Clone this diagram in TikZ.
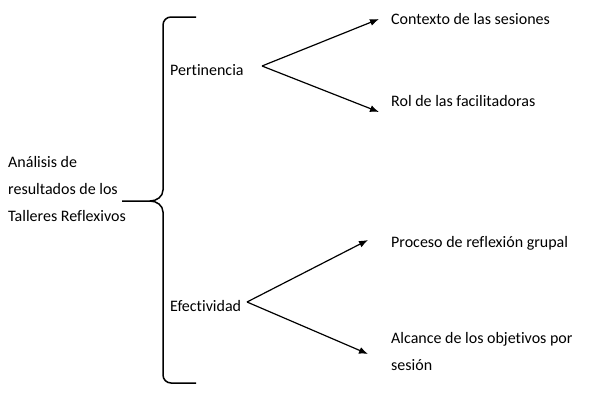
\documentclass[tikz,border=0pt]{standalone}
\usepackage{fontspec}
\setmainfont{Carlito}[Ligatures=NoCommon]
\usetikzlibrary{arrows.meta}

\begin{document}
\begin{tikzpicture}[x=1pt,y=-1pt,
	texto/.style={anchor=west,inner sep=0pt,font=\fontsize{16}{27}\selectfont,align=left},
	flecha/.style={-{Latex[length=9pt,width=7pt]},line width=1.2pt}]
	\useasboundingbox (0,0) rectangle (591,402);

	% Main text and the brace
	\node[texto] (main) at (8,189) {Análisis de\\resultados de los\\Talleres Reflexivos};
	\draw[line width=1.5pt] (196,17) -- (171,17) to[out=180,in=90] (163,25) -- (163,190) to[out=-90,in=0] (150,201) -- (122,201);
	\draw[line width=1.5pt] (150,201) to[out=0,in=90] (163,212) -- (163,375) to[out=-90,in=180] (171,383) -- (196,383);

	% The two categories
	\node[texto] (pert) at (170,70) {Pertinencia};
	\node[texto] (efec) at (170,306) {Efectividad};

	% Sub-categories
	\node[texto] (ctx) at (391,19) {Contexto de las sesiones};
	\node[texto] (rol) at (391,101) {Rol de las facilitadoras};
	\node[texto] (proc) at (391,243) {Proceso de reflexión grupal};
	\node[texto] (alc) at (391,351) {Alcance de los objetivos por\\sesión};

	% Arrows
	\coordinate (pert fork) at (262,66);
	\coordinate (efec fork) at (247,302);
	\draw[flecha] (pert fork) -- ([xshift=-12pt]ctx.west);
	\draw[flecha] (pert fork) -- ([xshift=-12pt,yshift=-11pt]rol.west);
	\draw[flecha] (efec fork) -- ([xshift=-23pt,yshift=3pt]proc.west);
	\draw[flecha] (efec fork) -- ([xshift=-23pt,yshift=-3pt]alc.west);
\end{tikzpicture}
\end{document}
